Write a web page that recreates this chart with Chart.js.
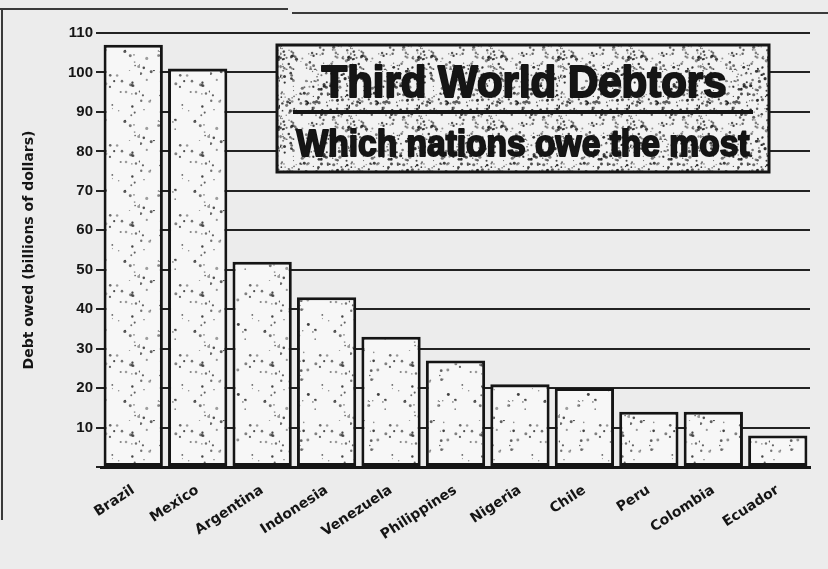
<!DOCTYPE html>
<html lang="en">
<head>
<meta charset="utf-8">
<title>Third World Debtors</title>
<style>
  html, body { margin: 0; padding: 0; background: #ececec; }
  #wrap { width: 828px; height: 569px; position: relative; }
</style>
</head>
<body>
<div id="wrap"><canvas id="debtChart"></canvas></div>

<script src="https://cdn.jsdelivr.net/npm/chart.js"></script>
<script>
// values (billions of dollars)
const countries = ['Brazil', 'Mexico', 'Argentina', 'Indonesia', 'Venezuela', 'Philippines',
                   'Nigeria', 'Chile', 'Peru', 'Colombia', 'Ecuador'];
const debtBillions = [107, 101, 52, 43, 33, 27, 21, 20, 14, 14, 8];
const yTickValues = [0, 10, 20, 30, 40, 50, 60, 70, 80, 90, 100, 110];

const chartTitle = 'Third World Debtors';
const chartSubtitle = 'Which nations owe the most';
const yAxisTitle = 'Debt owed (billions of dollars)';

const ink = '#151515';
const paper = '#ececec';
const narrowFont = "'Liberation Sans', Arial, sans-serif";
const heavyFont = "'DejaVu Sans', 'Liberation Sans', sans-serif";

const canvas = document.getElementById('debtChart');
const mainCtx = canvas.getContext('2d');

// newsprint stipple texture (fixed seed so it is the same every time)
function stipple(size, bg, count, seed, shade) {
    const c = document.createElement('canvas');
    c.width = c.height = size;
    const g = c.getContext('2d');
    g.fillStyle = bg;
    g.fillRect(0, 0, size, size);
    let s = seed;
    const rnd = () => (s = (s * 16807) % 2147483647) / 2147483647;
    for (let i = 0; i < count; i++) {
        const x = rnd() * size, y = rnd() * size, r = 0.5 + rnd() * 1.1;
        g.fillStyle = 'rgba(' + shade + ',' + shade + ',' + shade + ',' + (0.45 + rnd() * 0.5) + ')';
        g.beginPath();
        g.arc(x, y, r, 0, Math.PI * 2);
        g.fill();
    }
    return mainCtx.createPattern(c, 'repeat');
}

const barTexture = stipple(70, '#f7f7f7', 60, 12345, 55);
const boxTexture = stipple(70, '#f2f2f2', 240, 987, 35);

// paper colour and the page rules of the clipping
const paperPlugin = {
    id: 'paper',
    beforeDraw(chart) {
        const ctx = chart.ctx;
        ctx.save();
        ctx.fillStyle = paper;
        ctx.fillRect(0, 0, chart.width, chart.height);
        ctx.strokeStyle = '#3a3a3a';
        ctx.lineWidth = 2;
        ctx.beginPath();
        ctx.moveTo(0, 9); ctx.lineTo(288, 9);
        ctx.moveTo(292, 13); ctx.lineTo(chart.width, 13);
        ctx.moveTo(2, 9); ctx.lineTo(2, 520);
        ctx.stroke();
        ctx.restore();
    }
};

function fitText(ctx, text, cx, baseline, width, font) {
    ctx.font = font;
    const m = ctx.measureText(text).width;
    ctx.save();
    ctx.translate(cx, baseline);
    ctx.scale(width / m, 1);
    ctx.textAlign = 'center';
    ctx.textBaseline = 'alphabetic';
    ctx.lineJoin = 'round';
    ctx.lineWidth = 2;
    ctx.strokeText(text, 0, 0);
    ctx.fillText(text, 0, 0);
    ctx.restore();
}

// boxed headline sitting over the grid
const titleBox = {
    id: 'titleBox',
    afterDatasetsDraw(chart) {
        const ctx = chart.ctx;
        const x = 277, y = 45, w = 492, h = 127;
        ctx.save();
        ctx.fillStyle = boxTexture;
        ctx.fillRect(x, y, w, h);
        ctx.strokeStyle = ink;
        ctx.lineWidth = 3;
        ctx.strokeRect(x, y, w, h);

        ctx.fillStyle = ink;
        fitText(ctx, chartTitle, 524, 97, 405, 'bold 44px ' + narrowFont);

        ctx.lineWidth = 4;
        ctx.beginPath();
        ctx.moveTo(293, 112);
        ctx.lineTo(753, 112);
        ctx.stroke();

        fitText(ctx, chartSubtitle, 523, 156, 453, 'bold 36px ' + narrowFont);
        ctx.restore();
    }
};

const myChart = new Chart(canvas, {
    type: 'bar',
    data: {
        labels: countries,
        datasets: [{
            label: 'Debt owed',
            data: debtBillions,
            backgroundColor: barTexture,
            borderColor: ink,
            borderWidth: 3,
            borderSkipped: false,
            categoryPercentage: 0.92,
            barPercentage: 1.0
        }]
    },
    options: {
        responsive: true,
        maintainAspectRatio: false,
        animation: false,
        layout: { padding: { top: 33, right: 18, left: 0, bottom: 0 } },
        plugins: {
            legend: { display: false },
            tooltip: { enabled: false }
        },
        scales: {
            x: {
                offset: true,
                grid: { display: false },
                border: { display: true, color: ink, width: 3 },
                ticks: {
                    color: ink,
                    font: { family: heavyFont, size: 14, weight: 'bold' },
                    minRotation: 33,
                    maxRotation: 33,
                    autoSkip: false,
                    padding: 7
                },
                afterFit(scale) { scale.height = 102; }
            },
            y: {
                min: 0,
                max: 110,
                afterBuildTicks(scale) {
                    scale.ticks = yTickValues.map(v => ({ value: v }));
                },
                grid: { color: '#222', lineWidth: 2, tickLength: 5, drawTicks: true },
                border: { display: false },
                ticks: {
                    color: ink,
                    font: { family: narrowFont, size: 15, weight: 'bold' },
                    padding: 3,
                    callback: v => (v === 0 ? '' : v)
                },
                title: {
                    display: true,
                    text: yAxisTitle,
                    color: ink,
                    font: { family: heavyFont, size: 14, weight: 'bold' },
                    padding: { top: 21, bottom: 0 }
                },
                afterFit(scale) { scale.width = 101; }
            }
        }
    },
    plugins: [paperPlugin, titleBox]
});
</script>
</body>
</html>
